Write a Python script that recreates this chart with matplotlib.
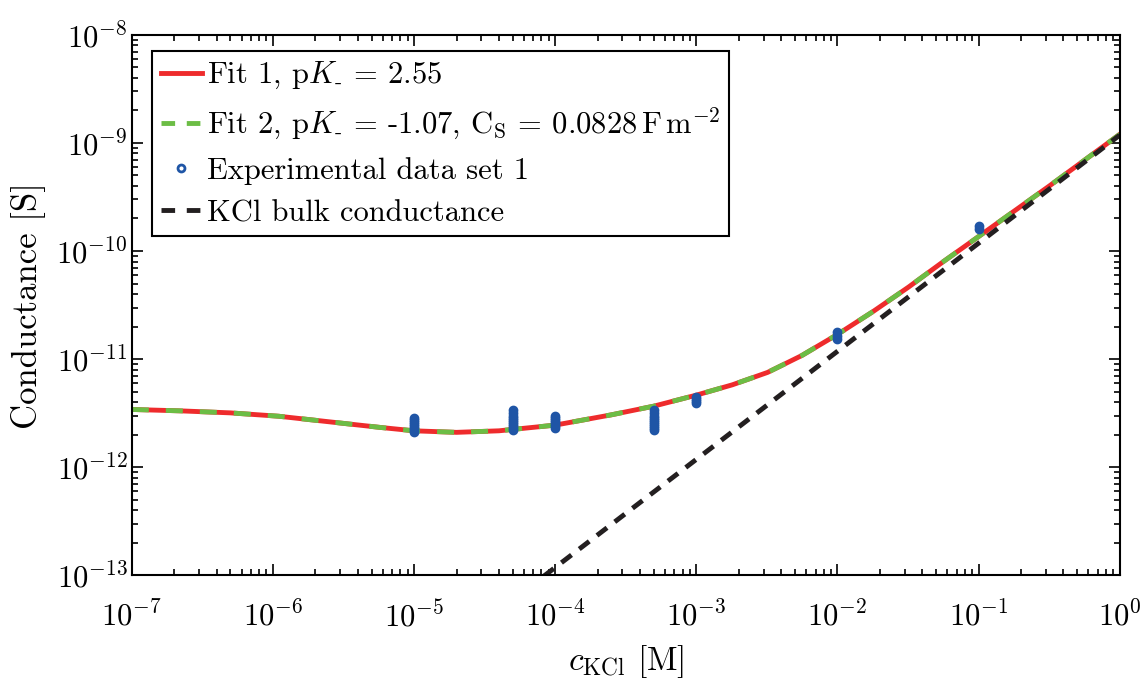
import numpy as np
import matplotlib
matplotlib.use("Agg")
import matplotlib.pyplot as plt
from matplotlib.transforms import ScaledTranslation

plt.rcParams["font.family"] = "cmr10"
plt.rcParams["mathtext.fontset"] = "cm"
plt.rcParams["axes.formatter.use_mathtext"] = True
plt.rcParams["font.size"] = 22

# fit curves
fit_c = [1e-7, 2.2e-7, 5e-7, 1.1e-6, 2.5e-6, 5.8e-6, 1e-5, 2e-5, 4e-5,
         1e-4, 2.5e-4, 5e-4, 1e-3, 1.8e-3, 3.2e-3, 5.6e-3, 1e-2, 1.8e-2,
         3.2e-2, 5.6e-2, 1e-1, 3.2e-1, 1.0]
fit1_G = [3.42e-12, 3.32e-12, 3.18e-12, 2.96e-12, 2.63e-12, 2.33e-12, 2.17e-12, 2.1e-12, 2.17e-12,
          2.45e-12, 3.05e-12, 3.67e-12, 4.64e-12, 5.78e-12, 7.53e-12, 1.08e-11, 1.69e-11, 2.77e-11,
          4.65e-11, 7.94e-11, 1.36e-10, 4.03e-10, 1.2e-9]
fit2_G = [3.42e-12, 3.32e-12, 3.18e-12, 2.96e-12, 2.63e-12, 2.33e-12, 2.17e-12, 2.1e-12, 2.17e-12,
          2.45e-12, 3.05e-12, 3.67e-12, 4.64e-12, 5.78e-12, 7.53e-12, 1.08e-11, 1.69e-11, 2.77e-11,
          4.65e-11, 7.94e-11, 1.36e-10, 4.03e-10, 1.2e-9]

# bulk conductance
bulk_c = [1e-7, 1.0]
bulk_G = [1.18e-16, 1.18e-9]

# experimental data set 1
exp_c = [1e-5] * 8 + [5e-5] * 10 + [1e-4] * 7 + [5e-4] * 10 + [1e-3] * 4 + [1e-2] * 3 + [1e-1] * 2
exp_G = [2.11e-12, 2.2e-12, 2.3e-12, 2.4e-12, 2.5e-12, 2.6e-12, 2.72e-12, 2.85e-12,
         2.2e-12, 2.3e-12, 2.4e-12, 2.5e-12, 2.62e-12, 2.74e-12, 2.87e-12, 3.0e-12, 3.18e-12, 3.37e-12,
         2.32e-12, 2.42e-12, 2.52e-12, 2.62e-12, 2.72e-12, 2.83e-12, 2.95e-12,
         2.2e-12, 2.3e-12, 2.4e-12, 2.5e-12, 2.62e-12, 2.74e-12, 2.87e-12, 3.0e-12, 3.18e-12, 3.37e-12,
         3.9e-12, 4.1e-12, 4.3e-12, 4.5e-12,
         1.53e-11, 1.65e-11, 1.78e-11,
         1.59e-10, 1.7e-10]

red = "#ee2b2c"
green = "#6cbd45"
blue = "#1f55a6"
black = "#231f20"

fig = plt.figure(figsize=(11.46, 6.84), dpi=100)
ax = fig.add_axes([0.115, 0.159, 0.862, 0.790])

ax.plot(fit_c, fit1_G, color=red, lw=3.5, label=r"Fit 1, p$K_{\text{-}}$ = 2.55")
ax.plot(fit_c, fit2_G, color=green, lw=3.5, dashes=(3.5, 3.5),
        label=r"Fit 2, p$K_{\text{-}}$ = -1.07, C$_{\mathrm{S}}$ = 0.0828$\,$F$\,$m$^{-2}$")
ax.plot(exp_c, exp_G, "o", ls="none", ms=6, mfc=blue, mec=blue, mew=1,
        label="Experimental data set 1")
ax.plot(bulk_c, bulk_G, color=black, lw=3.5, dashes=(2.6, 2),
        label="KCl bulk conductance")

ax.set_xscale("log")
ax.set_yscale("log")
ax.set_xlim(1e-7, 1)
ax.set_ylim(1e-13, 1e-8)
ax.tick_params(which="both", direction="in", top=True, right=True, width=1.2, labelsize=22)
ax.tick_params(which="major", length=8)
ax.tick_params(which="minor", length=4)
ax.tick_params(axis="x", which="major", pad=0)
ax.tick_params(axis="y", which="major", pad=3)
for s in ax.spines.values():
    s.set_linewidth(1.5)

# put the "10" on the tick and let the exponent stick up (LaTeX look)
yshift = ScaledTranslation(0, -0.13, fig.dpi_scale_trans)
for lab in ax.get_yticklabels():
    lab.set_va("baseline")
    lab.set_transform(lab.get_transform() + yshift)
xshift = ScaledTranslation(0, -0.51, fig.dpi_scale_trans)
for lab in ax.get_xticklabels():
    lab.set_va("baseline")
    lab.set_transform(lab.get_transform() + xshift)

ax.set_xlabel(r"$c_{\mathrm{KCl}}$ [M]", fontsize=24)
ax.xaxis.set_label_coords(0.5, -0.125)
ax.set_ylabel("Conductance [S]", fontsize=25)
ax.yaxis.set_label_coords(-0.087, 0.5)

leg = ax.legend(loc="upper left", bbox_to_anchor=(0.02, 0.97), fontsize=22,
                handlelength=1.35, handletextpad=0.15, borderaxespad=0.0,
                labelspacing=0.48, fancybox=False, framealpha=1, borderpad=0.3)
leg.get_frame().set_edgecolor("black")
leg.get_frame().set_linewidth(1.5)
handles = leg.legend_handles
handles[1].set_dashes((2.8, 2.4))
handles[3].set_dashes((2.8, 2.4))
handles[2].set_markerfacecolor("white")
handles[2].set_markersize(5)
handles[2].set_markeredgewidth(2)

fig.savefig("out.png", dpi=100)
